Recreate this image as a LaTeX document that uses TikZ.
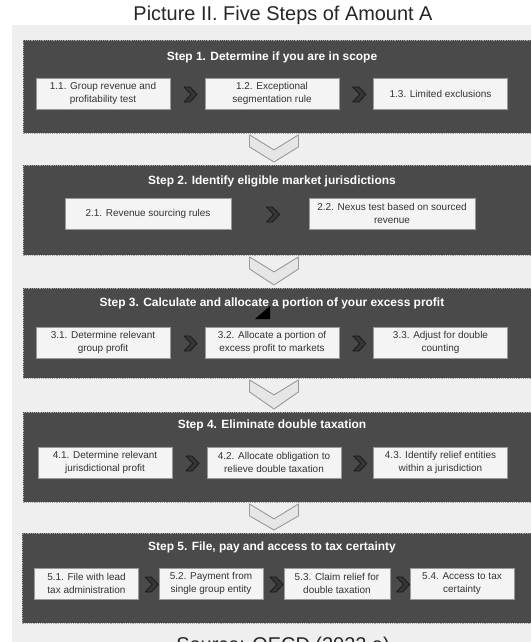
\documentclass[tikz,border=0pt]{standalone}
\usepackage{fontspec}
\setmainfont{Liberation Sans}
\usetikzlibrary{calc,positioning}
\definecolor{pagegray}{HTML}{EFEFEF}
\definecolor{panelgray}{HTML}{4A4A4A}
\definecolor{boxwhite}{HTML}{F4F4F4}
\definecolor{chevfill}{HTML}{E6E6E6}
\definecolor{chevdark}{HTML}{363636}
% down chevron between two step panels
\def\downchev(#1)(#2){\path (colx |- #1.south) coordinate (ct) (colx |- #2.north) coordinate (cu);
	\draw[line width=0.9bp, draw=black!40, fill=chevfill, line join=round] ($(ct)+(-24.5,1)$) -- ($(ct)+(0,16)$) -- ($(ct)+(24.5,1)$) -- ($(ct)+(24.5,13)$) -- ($(cu)+(0,-3)$) -- ($(ct)+(-24.5,13)$) -- cycle;}
% small right chevron between two sub steps
\def\rightchev(#1)(#2){\coordinate (cm) at ($(#1.east)!0.5!(#2.west)+(3,1)$);
	\draw[line width=0.8bp, draw=black!90, fill=chevdark, line join=round] ($(cm)+(-6.5,-7.5)$) -- ($(cm)+(-0.5,-7.5)$) -- ($(cm)+(6.5,0)$) -- ($(cm)+(-0.5,7.5)$) -- ($(cm)+(-6.5,7.5)$) -- ($(cm)+(0.5,0)$) -- cycle;}

\begin{document}
\begin{tikzpicture}[x=1bp, y=-1bp,
	panel/.style={draw=black!35, fill=panelgray, dash pattern=on 1.2bp off 1bp, line width=0.9bp, minimum width=518bp, minimum height=#1, inner sep=0pt},
	steptitle/.style={text=white, font=\bfseries\fontsize{12}{14}\selectfont},
	substep/.style={draw=black!40, fill=boxwhite, line width=0.9bp, minimum width=#1, minimum height=31bp, inner sep=1bp, align=center, text=black!80, font=\fontsize{10}{12.5}\selectfont},
	bigtext/.style={font=\fontsize{20}{24}\selectfont, text=black!85}]
	%%%%% START %%%%%
	\useasboundingbox (0,0) rectangle (531,642);
	\clip (0,0) rectangle (531,642);
	\fill[white] (0,0) rectangle (531,642);
	\fill[pagegray] (12,25) rectangle (531,642);
	\coordinate (colx) at (274,0);
	
	\node[bigtext] (title) at (283,15) {Picture II. Five Steps of Amount A};
	
	% step 1
	\node[panel=93bp, anchor=north west] (s1) at (23,40) {};
	\node[steptitle] (t1) at (272,57) {Step 1. Determine if you are in scope};
	\node[substep=134bp] (b11) at (103,93.5) {1.1. Group revenue and\\profitability test};
	\node[substep=134bp] (b12) at (272,93.5) {1.2. Exceptional\\segmentation rule};
	\node[substep=134bp] (b13) at (440.5,93.5) {1.3. Limited exclusions};
	\rightchev(b11)(b12)
	\rightchev(b12)(b13)
	
	% step 2
	\node[panel=90bp, anchor=north west] (s2) at (23,165) {};
	\node[steptitle] (t2) at (272,181) {Step 2. Identify eligible market jurisdictions};
	\node[substep=166bp] (b21) at (148,213.5) {2.1. Revenue sourcing rules};
	\node[substep=166bp] (b22) at (392,213.5) {2.2. Nexus test based on sourced\\revenue};
	\rightchev(b21)(b22)
	
	% step 3
	\node[panel=90bp, anchor=north west] (s3) at (23,288) {};
	\node[steptitle] (t3) at (272,303) {Step 3. Calculate and allocate a portion of your excess profit};
	\node[substep=134bp] (b31) at (103,342.5) {3.1. Determine relevant\\group profit};
	\node[substep=134bp] (b32) at (272,342.5) {3.2. Allocate a portion of\\excess profit to markets};
	\node[substep=134bp] (b33) at (440.5,342.5) {3.3. Adjust for double\\counting};
	\rightchev(b31)(b32)
	\rightchev(b32)(b33)
	\fill[black] (255,319) -- (270,319) -- (270,306) -- cycle;
	
	% step 4
	\node[panel=90bp, anchor=north west] (s4) at (23,412) {};
	\node[steptitle] (t4) at (272,425) {Step 4. Eliminate double taxation};
	\node[substep=134bp] (b41) at (105,462.5) {4.1. Determine relevant\\jurisdictional profit};
	\node[substep=134bp] (b42) at (274,462.5) {4.2. Allocate obligation to\\relieve double taxation};
	\node[substep=134bp] (b43) at (440.5,462.5) {4.3. Identify relief entities\\within a jurisdiction};
	\rightchev(b41)(b42)
	\rightchev(b42)(b43)
	
	% step 5
	\node[panel=90bp, anchor=north west] (s5) at (22,533) {};
	\node[steptitle] (t5) at (272,547) {Step 5. File, pay and access to tax certainty};
	\node[substep=104bp] (b51) at (86.5,583.5) {5.1. File with lead\\tax administration};
	\node[substep=104bp] (b52) at (211,583.5) {5.2. Payment from\\single group entity};
	\node[substep=106bp] (b53) at (337,583.5) {5.3. Claim relief for\\double taxation};
	\node[substep=104bp] (b54) at (462,583.5) {5.4. Access to tax\\certainty};
	\rightchev(b51)(b52)
	\rightchev(b52)(b53)
	\rightchev(b53)(b54)
	
	% arrows between the steps
	\downchev(s1)(s2)
	\downchev(s2)(s3)
	\downchev(s3)(s4)
	\downchev(s4)(s5)
	
	\node[bigtext, anchor=base] (source) at (283,651) {Source: OECD (2022 a)};
	%%%%% END %%%%%
\end{tikzpicture}
\end{document}
